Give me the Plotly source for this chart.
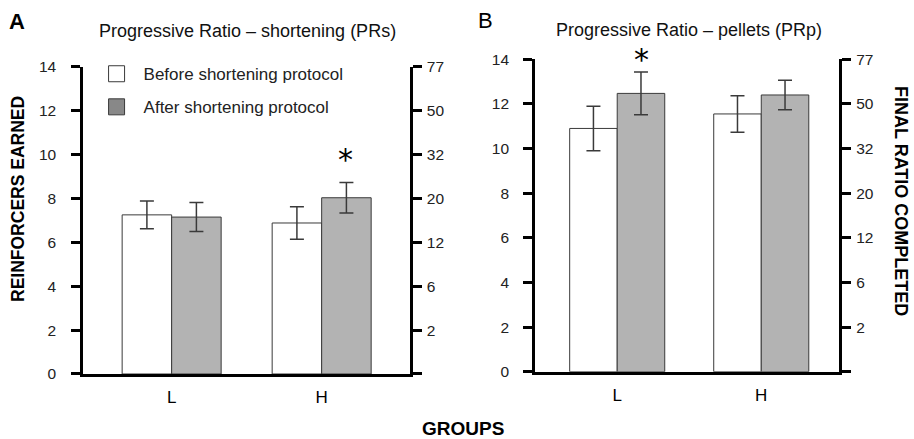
import plotly.graph_objects as go

# ---- data ----
groups = ["L", "H"]
prs_before = [7.25, 6.88]
prs_before_err = [0.63, 0.74]
prs_after = [7.15, 8.03]
prs_after_err = [0.66, 0.69]

prp_before = [10.9, 11.55]
prp_before_err = [1.0, 0.82]
prp_after = [12.47, 12.4]
prp_after_err = [0.96, 0.66]

left_ticks = [0, 2, 4, 6, 8, 10, 12, 14]
right_ticks = [0, 2, 4, 6, 8, 10, 12, 14]
right_ticktext = ["", "2", "6", "12", "20", "32", "50", "77"]

FONT = "Liberation Sans, Arial, Helvetica, sans-serif"
BAR_GRAY = "#b3b3b3"
EDGE = "#3a3a3a"

fig = go.Figure()

def add_bars(xref, yref, before, berr, after, aerr):
    fig.add_trace(go.Bar(
        x=groups, y=before, xaxis=xref, yaxis=yref, showlegend=False,
        marker=dict(color="white", line=dict(color=EDGE, width=1)),
        error_y=dict(type="data", array=berr, color=EDGE, thickness=1.5, width=7),
    ))
    fig.add_trace(go.Bar(
        x=groups, y=after, xaxis=xref, yaxis=yref, showlegend=False,
        marker=dict(color=BAR_GRAY, line=dict(color=EDGE, width=1)),
        error_y=dict(type="data", array=aerr, color=EDGE, thickness=1.5, width=7),
    ))

add_bars("x", "y", prs_before, prs_before_err, prs_after, prs_after_err)
add_bars("x2", "y2", prp_before, prp_before_err, prp_after, prp_after_err)

# invisible traces so the right-hand (final ratio) axes get drawn
fig.add_trace(go.Scatter(x=[None], y=[None], xaxis="x", yaxis="y3", showlegend=False,
                         hoverinfo="skip", mode="markers"))
fig.add_trace(go.Scatter(x=[None], y=[None], xaxis="x2", yaxis="y4", showlegend=False,
                         hoverinfo="skip", mode="markers"))

# legend entries
fig.add_trace(go.Scatter(x=[None], y=[None], mode="markers", name="Before shortening protocol",
                         legendgroup="a",
                         marker=dict(symbol="square", size=16, color="white", line=dict(color=EDGE, width=1))))
fig.add_trace(go.Scatter(x=[None], y=[None], mode="markers", name="After shortening protocol",
                         legendgroup="b",
                         marker=dict(symbol="square", size=16, color="#888888", line=dict(color=EDGE, width=1))))

xcommon = dict(type="category", showline=True, linewidth=2.5, linecolor="black", ticks="",
               showgrid=False, zeroline=False, tickfont=dict(size=17, color="black"),
               automargin=False, ticklabelstandoff=6)
ycommon = dict(range=[0, 14], showline=True, linewidth=2.5, linecolor="black", ticks="outside",
               ticklen=9, tickwidth=2.5, tickcolor="black", showgrid=False, zeroline=False,
               tickfont=dict(size=15.5, color="#222"), automargin=False)

fig.update_layout(
    width=914, height=439,
    margin=dict(l=0, r=0, t=0, b=0, pad=0),
    paper_bgcolor="white", plot_bgcolor="white",
    font=dict(family=FONT, color="black"),
    barmode="group", bargap=0.34, bargroupgap=0,
    xaxis=dict(xcommon, domain=[0.0908, 0.4486], range=[-0.591, 1.589], anchor="y"),
    yaxis=dict(ycommon, domain=[0.1481, 0.848], tickvals=left_ticks, anchor="x", ticklabelstandoff=12),
    yaxis3=dict(ycommon, overlaying="y", side="right", anchor="x", tickvals=right_ticks,
                ticktext=right_ticktext, ticklabelstandoff=2),
    xaxis2=dict(xcommon, domain=[0.5853, 0.9183], range=[-0.571, 1.542], anchor="y2"),
    yaxis2=dict(ycommon, domain=[0.1533, 0.865], tickvals=left_ticks, anchor="x2", ticklabelstandoff=11),
    yaxis4=dict(ycommon, overlaying="y2", side="right", anchor="x2", tickvals=right_ticks,
                ticktext=right_ticktext, ticklabelstandoff=2),
    legend=dict(x=0.098, y=0.872, xanchor="left", yanchor="top", bgcolor="rgba(0,0,0,0)",
                font=dict(size=17, color="#222"), itemwidth=44, tracegroupgap=8,
                traceorder="grouped", itemclick=False),
    showlegend=True,
)

ann = []
ann.append(dict(text="<b>A</b>", x=17 / 914, y=1 - 22 / 439, xref="paper", yref="paper",
                showarrow=False, font=dict(size=22), xanchor="center", yanchor="middle"))
ann.append(dict(text="B", x=486 / 914, y=1 - 21 / 439, xref="paper", yref="paper",
                showarrow=False, font=dict(size=22), xanchor="center", yanchor="middle"))
ann.append(dict(text="Progressive Ratio – shortening (PRs)", x=247.5 / 914, y=1 - 31.5 / 439,
                xref="paper", yref="paper", showarrow=False, font=dict(size=18, color="#111"),
                xanchor="center", yanchor="middle"))
ann.append(dict(text="Progressive Ratio – pellets (PRp)", x=689 / 914, y=1 - 30 / 439,
                xref="paper", yref="paper", showarrow=False, font=dict(size=18, color="#111"),
                xanchor="center", yanchor="middle"))
ann.append(dict(text="<b>REINFORCERS EARNED</b>", x=18 / 914, y=1 - 199 / 439, xref="paper",
                yref="paper", showarrow=False, textangle=-90, font=dict(size=17.5),
                xanchor="center", yanchor="middle"))
ann.append(dict(text="<b>FINAL RATIO COMPLETED</b>", x=901 / 914, y=1 - 201 / 439, xref="paper",
                yref="paper", showarrow=False, textangle=90, font=dict(size=18),
                xanchor="center", yanchor="middle"))
ann.append(dict(text="<b>GROUPS</b>", x=463 / 914, y=1 - 428 / 439, xref="paper", yref="paper",
                showarrow=False, font=dict(size=19), xanchor="center", yanchor="middle"))
# significance stars
ann.append(dict(text="*", x="H", y=prs_after[1] + prs_after_err[1], xref="x", yref="y",
                showarrow=False, font=dict(size=30, family="DejaVu Sans"), xshift=24, yshift=23,
                yanchor="middle"))
ann.append(dict(text="*", x="L", y=prp_after[0] + prp_after_err[0], xref="x2", yref="y2",
                showarrow=False, font=dict(size=30, family="DejaVu Sans"), xshift=24, yshift=12,
                yanchor="middle"))
fig.update_layout(annotations=ann)

fig.write_html("out.html", config={"displayModeBar": False},
               post_script="document.body.style.margin='0';document.body.style.padding='0';"
                           "document.documentElement.style.overflow='hidden';")
